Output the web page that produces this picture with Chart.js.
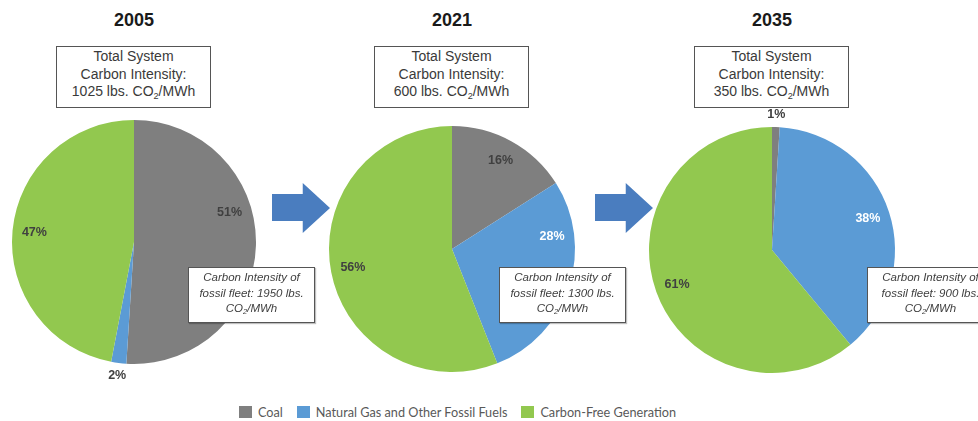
<!DOCTYPE html>
<html>
<head>
<meta charset="utf-8">
<script src="https://cdn.jsdelivr.net/npm/chart.js@4.4.1/dist/chart.umd.min.js"></script>
<style>
  body { margin: 0; background: #fff; width: 978px; height: 421px; overflow: hidden; position: relative; font-family: Arial, "Liberation Sans", sans-serif; }
  .pie { position: absolute; }
  .year { position: absolute; top: 10px; width: 160px; text-align: center; font-weight: bold; font-size: 18px; color: #1a1a1a; }
  .sysbox { position: absolute; top: 46px; width: 153px; height: 59px; border: 1.5px solid #555; background: #fff;
            font-size: 14px; line-height: 17.5px; color: #3a3a3a; text-align: center; box-sizing: content-box; padding-top: 1px; }
  .fleetbox { position: absolute; top: 267px; width: 125px; height: 52px; border: 1.5px solid #555; background: #fff;
              font-size: 11.5px; line-height: 15.5px; font-style: italic; color: #404040; text-align: center; padding-top: 2px;
              box-shadow: 1px 1px 1px rgba(0,0,0,0.25); white-space: nowrap; }
  sub { font-size: 0.65em; line-height: 0; vertical-align: -0.3em; }
  .arrow { position: absolute; top: 183px; width: 58px; height: 50px; background: #4a7dbf;
           clip-path: polygon(0 22%, 53% 22%, 53% 0, 100% 50%, 53% 100%, 53% 76%, 0 76%); }
  .legend { position: absolute; top: 404px; left: 239px; display: flex; align-items: center; font-family: Lato, "Open Sans", sans-serif; font-size: 12.7px; color: #595959; }
  .legend span.sw { display: inline-block; width: 13px; height: 12px; margin-right: 6px; }
  .legend .item { display: flex; align-items: center; margin-right: 14px; }
</style>
</head>
<body>

<div class="arrow" style="left:272px"></div>
<div class="arrow" style="left:595px"></div>
<div id="legend" class="legend"></div>

<script>
// generation mix by source, in percent of total generation
const sources = ['Coal', 'Natural Gas and Other Fossil Fuels', 'Carbon-Free Generation'];
const years = ['2005', '2021', '2035'];
const share2005 = [51, 2, 47];
const share2021 = [16, 28, 56];
const share2035 = [1, 38, 61];
// lbs. CO2/MWh
const systemIntensity = [1025, 600, 350];
const fleetIntensity = [1950, 1300, 900];

const sourceColors = ['#7f7f7f', '#5b9bd5', '#92c84f'];

// percent labels inside the slices (tiny slices get theirs just outside the rim)
const sliceLabels = {
  id: 'sliceLabels',
  afterDatasetsDraw(chart, args, opts) {
    const ctx = chart.ctx;
    const meta = chart.getDatasetMeta(0);
    const values = chart.data.datasets[0].data;
    ctx.save();
    ctx.font = 'bold 12.5px Arial';
    ctx.textAlign = 'center';
    ctx.textBaseline = 'middle';
    meta.data.forEach((arc, i) => {
      const v = values[i];
      const shift = ((opts.shift && opts.shift[i]) || 0) * Math.PI / 180;
      const mid = (arc.startAngle + arc.endAngle) / 2 + shift;
      const outside = v < 5;
      const r = arc.outerRadius * (outside ? 1.1 : 0.82);
      ctx.fillStyle = (!outside && i === 1) ? '#ffffff' : '#404040';
      ctx.fillText(v + '%', arc.x + Math.cos(mid) * r, arc.y + Math.sin(mid) * r);
    });
    ctx.restore();
  }
};

function makePie(data, cx, cy, radius, shift) {
  const size = 300;
  const canvas = document.createElement('canvas');
  canvas.width = size;
  canvas.height = size;
  canvas.className = 'pie';
  canvas.style.left = (cx - size / 2) + 'px';
  canvas.style.top = (cy - size / 2) + 'px';
  document.body.insertBefore(canvas, document.body.firstChild);

  new Chart(canvas.getContext('2d'), {
    type: 'pie',
    data: {
      labels: sources,
      datasets: [{
        data: data,
        backgroundColor: sourceColors,
        borderWidth: 0
      }]
    },
    options: {
      responsive: false,
      animation: false,
      layout: { padding: size / 2 - radius },
      plugins: {
        legend: { display: false },
        tooltip: { enabled: false },
        sliceLabels: { shift: shift }
      }
    },
    plugins: [sliceLabels]
  });
}

makePie(share2005, 134, 242, 122, [-19, 0, 0]);
makePie(share2021, 452, 249, 123, [0, -25, 0]);
makePie(share2035, 772, 250, 123, [0, 0, 0]);

// year headings and the two text boxes for each pie
const centers = [134, 452, 772];
const fleetLeft = [188, 499, 867];
years.forEach((y, i) => {
  const h = document.createElement('div');
  h.className = 'year';
  h.style.left = (centers[i] - 80) + 'px';
  h.textContent = y;
  document.body.appendChild(h);

  const box = document.createElement('div');
  box.className = 'sysbox';
  box.style.left = (centers[i] - 78) + 'px';
  box.innerHTML = 'Total System<br>Carbon Intensity:<br>' + systemIntensity[i] + ' lbs. CO<sub>2</sub>/MWh';
  document.body.appendChild(box);

  const fleet = document.createElement('div');
  fleet.className = 'fleetbox';
  fleet.style.left = fleetLeft[i] + 'px';
  fleet.innerHTML = 'Carbon Intensity of<br>fossil fleet: ' + fleetIntensity[i] + ' lbs.<br>CO<sub>2</sub>/MWh';
  document.body.appendChild(fleet);
});

const legend = document.getElementById('legend');
sources.forEach((s, i) => {
  const item = document.createElement('div');
  item.className = 'item';
  item.innerHTML = '<span class="sw" style="background:' + sourceColors[i] + '"></span>' + s;
  legend.appendChild(item);
});
</script>
</body>
</html>
